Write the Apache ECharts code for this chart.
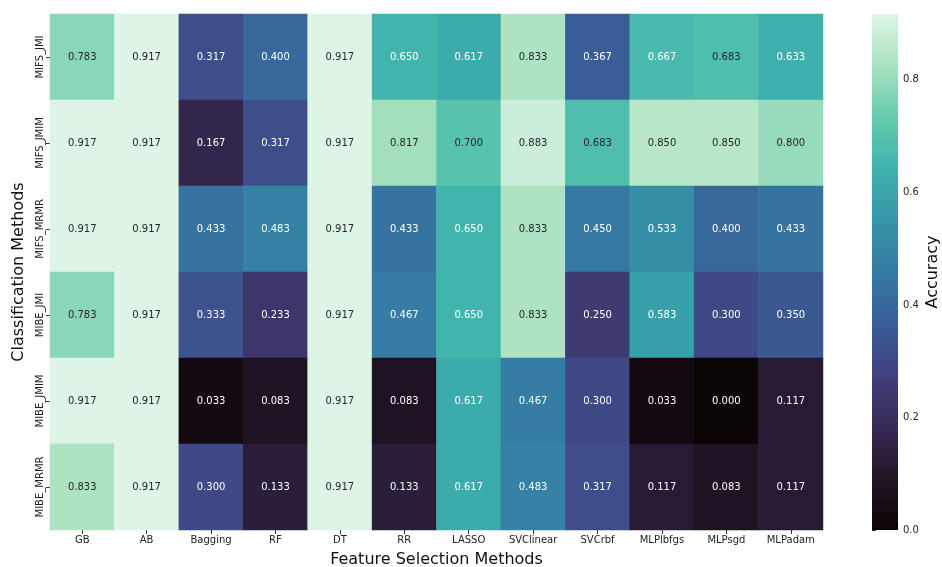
<!DOCTYPE html>
<html>
<head>
<meta charset="utf-8">
<script src="https://cdn.jsdelivr.net/npm/echarts@6/dist/echarts.min.js"></script>
<style>
  html, body { margin: 0; padding: 0; background: #ffffff; }
  #chart { width: 942px; height: 567px; }
</style>
</head>
<body>
<div id="chart"></div>
<script>
// Column and row categories
const featureMethods = ['GB', 'AB', 'Bagging', 'RF', 'DT', 'RR', 'LASSO', 'SVClinear', 'SVCrbf', 'MLPlbfgs', 'MLPsgd', 'MLPadam'];
const classMethods = ['MIFS_JMI', 'MIFS_JMIM', 'MIFS_MRMR', 'MIBE_JMI', 'MIBE_JMIM', 'MIBE_MRMR'];

// Accuracy per row, one value per column
const accMIFS_JMI  = [0.783, 0.917, 0.317, 0.400, 0.917, 0.650, 0.617, 0.833, 0.367, 0.667, 0.683, 0.633];
const accMIFS_JMIM = [0.917, 0.917, 0.167, 0.317, 0.917, 0.817, 0.700, 0.883, 0.683, 0.850, 0.850, 0.800];
const accMIFS_MRMR = [0.917, 0.917, 0.433, 0.483, 0.917, 0.433, 0.650, 0.833, 0.450, 0.533, 0.400, 0.433];
const accMIBE_JMI  = [0.783, 0.917, 0.333, 0.233, 0.917, 0.467, 0.650, 0.833, 0.250, 0.583, 0.300, 0.350];
const accMIBE_JMIM = [0.917, 0.917, 0.033, 0.083, 0.917, 0.083, 0.617, 0.467, 0.300, 0.033, 0.000, 0.117];
const accMIBE_MRMR = [0.833, 0.917, 0.300, 0.133, 0.917, 0.133, 0.617, 0.483, 0.317, 0.117, 0.083, 0.117];

// Colour bar ticks
const colorbarTicks = [0.0, 0.2, 0.4, 0.6, 0.8];

const rows = [accMIFS_JMI, accMIFS_JMIM, accMIFS_MRMR, accMIBE_JMI, accMIBE_JMIM, accMIBE_MRMR];

// "mako"-style colour ramp, evenly spaced from 0 to 1
const makoStops = ['#0b0405', '#211425', '#372a55', '#40417e', '#3a5d98', '#357ba2',
                   '#3595a8', '#3eb3ad', '#65ccad', '#a8e1bf', '#def5e5'];

const allValues = rows.flat();
const vmin = Math.min(...allValues);
const vmax = Math.max(...allValues);

// light cells get dark annotation text, dark cells get white
const cells = [];
rows.forEach((row, r) => {
  row.forEach((v, c) => {
    cells.push({
      value: [c, r, v],
      label: { color: v > 0.675 ? '#262626' : '#ffffff' }
    });
  });
});

const FONT = 'DejaVu Sans';
const chart = echarts.init(document.getElementById('chart'), null, { renderer: 'canvas' });

chart.setOption({
  backgroundColor: '#ffffff',
  animation: false,
  grid: [
    { left: 50, top: 14, width: 773, height: 516, outerBoundsMode: 'none', containLabel: false },
    { left: 872, top: 14, width: 26, height: 516, outerBoundsMode: 'none', containLabel: false }
  ],
  xAxis: [
    {
      gridIndex: 0,
      type: 'category',
      data: featureMethods,
      axisLine: { show: false },
      axisTick: { show: true, alignWithLabel: true, length: 4, lineStyle: { color: '#333' } },
      axisLabel: { fontFamily: FONT, fontSize: 10, color: '#222', margin: 5, interval: 0 },
      splitLine: { show: false },
      name: 'Feature Selection Methods',
      nameLocation: 'middle',
      nameGap: 22,
      nameTextStyle: { fontFamily: FONT, fontSize: 16, color: '#111' }
    },
    {
      gridIndex: 1,
      type: 'value',
      min: 0,
      max: 1,
      show: false
    }
  ],
  yAxis: [
    {
      gridIndex: 0,
      type: 'category',
      data: classMethods,
      inverse: true,
      axisLine: { show: false },
      axisTick: { show: true, alignWithLabel: true, length: 4, lineStyle: { color: '#333' } },
      axisLabel: { fontFamily: FONT, fontSize: 10, color: '#222', margin: 5, rotate: 90, interval: 0 },
      splitLine: { show: false },
      name: 'Classification Methods',
      nameLocation: 'middle',
      nameGap: 20,
      nameTextStyle: { fontFamily: FONT, fontSize: 16, color: '#111' }
    },
    {
      gridIndex: 1,
      type: 'value',
      position: 'right',
      min: vmin,
      max: vmax,
      axisLine: { show: false },
      axisTick: { show: true, length: 4, customValues: colorbarTicks, lineStyle: { color: '#333' } },
      axisLabel: { fontFamily: FONT, fontSize: 10, color: '#222', margin: 5,
                   customValues: colorbarTicks, formatter: v => v.toFixed(1) },
      splitLine: { show: false },
      name: 'Accuracy',
      nameLocation: 'middle',
      nameRotate: 90,
      nameGap: 27,
      nameTextStyle: { fontFamily: FONT, fontSize: 16, color: '#111' }
    }
  ],
  visualMap: {
    show: false,
    type: 'continuous',
    seriesIndex: 0,
    dimension: 2,
    min: vmin,
    max: vmax,
    inRange: { color: makoStops }
  },
  series: [
    {
      type: 'heatmap',
      xAxisIndex: 0,
      yAxisIndex: 0,
      data: cells,
      label: {
        show: true,
        fontFamily: FONT,
        fontSize: 10,
        formatter: p => p.value[2].toFixed(3)
      },
      itemStyle: { borderWidth: 0 },
      emphasis: { disabled: true }
    },
    {
      // colour bar: one rectangle spanning the value range of the bar axis
      type: 'custom',
      xAxisIndex: 1,
      yAxisIndex: 1,
      silent: true,
      data: [[vmin, vmax]],
      renderItem: (params, api) => {
        const p0 = api.coord([0, api.value(0)]);
        const p1 = api.coord([1, api.value(1)]);
        return {
          type: 'rect',
          shape: { x: p0[0], y: p1[1], width: p1[0] - p0[0], height: p0[1] - p1[1] },
          style: {
            fill: new echarts.graphic.LinearGradient(0, 1, 0, 0,
              makoStops.map((c, i) => ({ offset: i / (makoStops.length - 1), color: c })))
          }
        };
      }
    }
  ]
});
</script>
</body>
</html>
